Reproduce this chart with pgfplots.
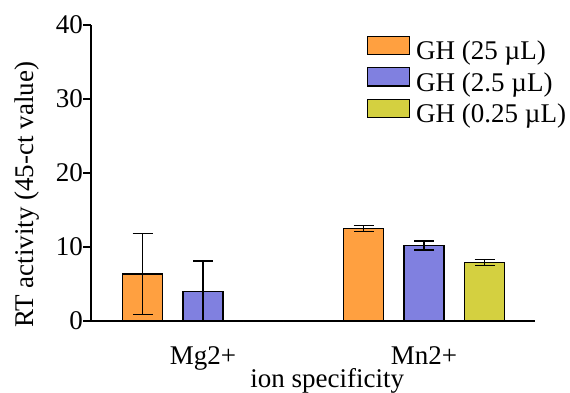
\documentclass[border=0pt]{standalone}
\usepackage{pgfplots}
\pgfplotsset{compat=1.18}
\usepackage{fontspec}
\setmainfont{LiberationSerif}[
  Extension=.ttf,
  UprightFont=*-Regular,
  BoldFont=*-Bold,
  ItalicFont=*-Italic]

\definecolor{ghA}{RGB}{255,160,64}
\definecolor{ghB}{RGB}{128,128,224}
\definecolor{ghC}{RGB}{212,208,64}

\begin{document}
\fontsize{27}{32}\selectfont
\begin{tikzpicture}
\useasboundingbox (0,0) rectangle (570pt,392pt);
\begin{axis}[
  at={(91pt,71pt)}, anchor=south west,
  scale only axis, width=444pt, height=296pt,
  xmin=-0.507, xmax=1.502, ymin=0, ymax=40,
  clip=false,
  axis x line=bottom, axis y line=left,
  axis line style={-, line width=1.4pt},
  ytick={0,10,20,30,40},
  tick align=outside, major tick length=8pt,
  ytick style={line width=1.4pt, black},
  xtick={0,1}, xticklabels={Mg2+,Mn2+},
  xtick style={draw=none},
  /pgf/number format/assume math mode=true,
  tick label style={font=\fontsize{27}{32}\selectfont},
  xticklabel style={anchor=base, inner sep=0pt, yshift=-35pt},
  yticklabel style={anchor=east, inner sep=0pt},
  xlabel={ion specificity},
  xlabel style={at={(axis description cs:0.532,0)}, anchor=base, yshift=-66pt, inner sep=0pt},
  ylabel={RT activity (45-ct value)},
  ylabel style={at={(axis description cs:-0.1284,0.426)}, anchor=base, rotate=0, inner sep=0pt},
  label style={font=\fontsize{27}{32}\selectfont},
  ybar=20.5pt, bar width=40pt,
  every axis plot/.append style={draw=black, line width=1.3pt},
  error bars/y dir=both, error bars/y explicit,
  error bars/error mark options={rotate=90, mark size=10pt, line width=1.3pt, black},
  error bars/error bar style={line width=1.3pt, black},
  legend image code/.code={\draw[#1] (0pt,-0.7pt) rectangle (42pt,17.6pt);},
  legend style={at={(0.621,0.965)}, anchor=north west, draw=none, fill=none,
    inner sep=0pt, row sep=0pt, column sep=6pt,
    font=\fontsize{27}{32}\selectfont,
    nodes={inner sep=0pt, text height=19pt, text depth=7.5pt}},
  legend cell align=left,
]
\addplot[fill=ghA] coordinates {(0,6.35) +- (0,5.45) (1,12.47) +- (0,0.42)};
\addplot[fill=ghB] coordinates {(0,3.96) += (0,4.15) -= (0,3.96) (1,10.2) +- (0,0.62)};
\addplot[fill=ghC] coordinates {(0,0) (1,7.88) +- (0,0.4)};
\legend{GH (25 µL), GH (2.5 µL), GH (0.25 µL)}
\end{axis}
\end{tikzpicture}
\end{document}
